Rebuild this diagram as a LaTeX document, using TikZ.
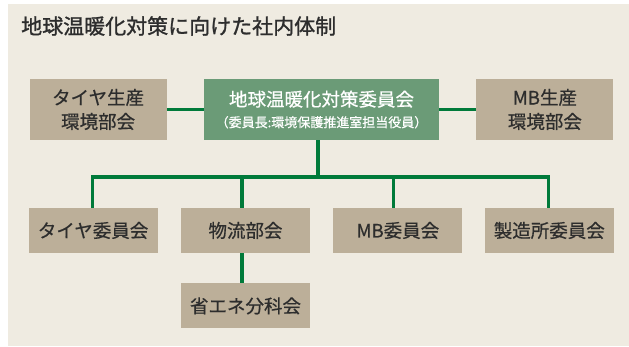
\documentclass[tikz,border=0pt]{standalone}
\usepackage{fontspec}
\setmainfont{Noto Sans CJK JP}
\newfontfamily\medfont{Noto Sans CJK JP}[FakeBold=0.6]
\newfontfamily\headfont{Noto Sans CJK JP}[FakeBold=1.2]
\definecolor{bgcolor}{RGB}{239,235,225}
\definecolor{boxcolor}{RGB}{188,175,153}
\definecolor{chaircolor}{RGB}{107,155,119}
\definecolor{linecolor}{RGB}{0,122,58}
\definecolor{lettercolor}{RGB}{45,45,45}
\usetikzlibrary{positioning}
\tikzset{
	block/.style={
		rectangle,
		fill=boxcolor,
		text=lettercolor,
		inner sep=0pt,
		minimum width=129pt,
		minimum height=45pt,
		align=center,
		font=\medfont\fontsize{18.5}{24}\selectfont
	},
	topblock/.style={
		block,
		minimum width=137pt,
		minimum height=61pt
	},
	chair/.style={
		topblock,
		fill=chaircolor,
		text=white,
		minimum width=235pt,
		font=\medfont\fontsize{18.5}{21}\selectfont
	},
	link/.style={
		draw=linecolor,
		line width=3.2pt
	},
	heading/.style={
		anchor=west,
		inner sep=0pt,
		text=lettercolor,
		font=\headfont\fontsize{21}{24}\selectfont
	},
}

\begin{document}
\begin{tikzpicture}[x=1pt,y=-1pt]
	\useasboundingbox (0,0) rectangle (629,346);
	\fill[bgcolor] (8,4) rectangle (629,346);
	\node [heading] (title) at (21,26) {地球温暖化対策に向けた社内体制};

	\node [chair] (main) at (321.5,109.5) {地球温暖化対策委員会\\{\fontsize{13}{21}\selectfont （委員長:環境保護推進室担当役員）}};
	\node [topblock] (tyreenv) [left=37pt of main] {タイヤ生産\\環境部会};
	\node [topblock] (mbenv) [right=37pt of main] {MB生産\\環境部会};

	\node [block] (logistics) at (245.5,230.5) {物流部会};
	\node [block] (tyre) [left=23pt of logistics] {タイヤ委員会};
	\node [block] (mb) [right=23pt of logistics] {MB委員会};
	\node [block] (plant) [right=22pt of mb] {製造所委員会};
	\node [block] (energy) [below=30pt of logistics] {省エネ分科会};

	\coordinate (bus) at (318,177);
	\draw[link] (tyreenv) -- (main);
	\draw[link] (main) -- (mbenv);
	\draw[link] (main.south -| bus) -- (bus);
	\draw[link] ([xshift=-1pt]tyre.north) |- (bus) -| ([xshift=-0.5pt]plant.north);
	\draw[link] ([xshift=-3.5pt]logistics.north) -- ([xshift=-3.5pt]logistics.north |- bus);
	\draw[link] ([xshift=-4.5pt]mb.north) -- ([xshift=-4.5pt]mb.north |- bus);
	\draw[link] ([xshift=-3.5pt]logistics.south) -- ([xshift=-3.5pt]energy.north);
\end{tikzpicture}
\end{document}
